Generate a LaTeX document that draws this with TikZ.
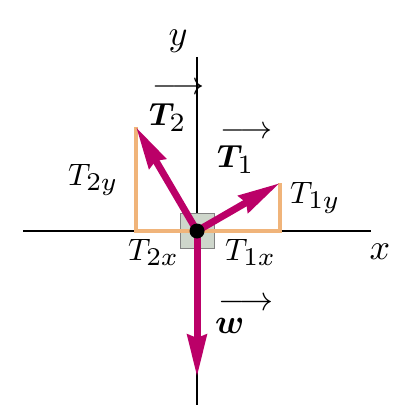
\documentclass[tikz,border=0pt]{standalone}
\usepackage{amsmath,bm}
\usetikzlibrary{arrows.meta}
\definecolor{vecc}{RGB}{187,0,104}
\definecolor{compc}{RGB}{240,180,122}
\definecolor{boxc}{RGB}{206,214,203}
\definecolor{boxd}{RGB}{130,130,130}
\newcommand{\lsc}[1]{\scalebox{3.1}{$#1$}}
\newcommand{\vsc}[1]{\scalebox{3.2}{$#1$}}
\newcommand{\asc}[1]{\scalebox{3.6}{$#1$}}
\newcommand{\bsub}[1]{_{\scalebox{1.18}{$\scriptstyle #1$}}}
\newcommand{\varr}[2]{\rlap{\raisebox{#2}{$\mkern2mu\longrightarrow$}}#1}
\begin{document}
\begin{tikzpicture}[x=1pt,y=-1pt,
  axis/.style={line width=2pt,black},
  force/.style={vecc, line width=7pt, -{Stealth[length=42pt,width=19pt,inset=3pt]}},
  compline/.style={compc, line width=4pt},
  lbl/.style={inner sep=0pt, anchor=base west},
  axlbl/.style={inner sep=0pt}]
\useasboundingbox (0,0) rectangle (420,420);
% coordinates
\coordinate (O) at (197,231);
\coordinate (ytop) at (197,57);
\coordinate (ybot) at (197,405);
\coordinate (xl) at (23,231);
\coordinate (xr) at (371,231);
\coordinate (T2) at (136,127);
\coordinate (T1) at (280,183);
\coordinate (W) at (197,377);
\coordinate (T2c) at (136,231);
\coordinate (T1c) at (280,231);
% axes
\draw[axis] (xl) -- (xr);
\draw[axis] (ytop) -- (ybot);
% box
\node[draw=boxd, fill=boxc, line width=0.8pt, minimum width=34pt, minimum height=35pt, inner sep=0pt] (box) at (O) {};
% components
\draw[compline] (T2) -- (T2c) -- (T1c) -- (T1);
% forces
\draw[force] (O) -- (T2);
\draw[force] (O) -- (T1);
\draw[force] (O) -- (W);
\fill[black] (O) circle (7.5pt);
% labels
\node[axlbl] (ylab) at (178,41) {\asc{y}};
\node[axlbl] (xlab) at (380,252) {\asc{x}};
\node[lbl] (t2lab) at (149,125) {\vsc{\varr{\bm T}{9.5pt}\bsub{2}}};
\node[lbl] (t1lab) at (217,167) {\vsc{\varr{\bm T}{9pt}\bsub{1}}};
\node[lbl] (wlab) at (215,333) {\scalebox{3.4}{$\varr{\bm w}{6.5pt}$}};
\node[lbl] (t2y) at (68,185) {\lsc{T\bsub{2y}}};
\node[lbl] (t1y) at (290,203) {\lsc{T\bsub{1y}}};
\node[lbl] (t2x) at (128,260) {\lsc{T\bsub{2x}}};
\node[lbl] (t1x) at (225,260) {\lsc{T\bsub{1x}}};
\end{tikzpicture}
\end{document}
